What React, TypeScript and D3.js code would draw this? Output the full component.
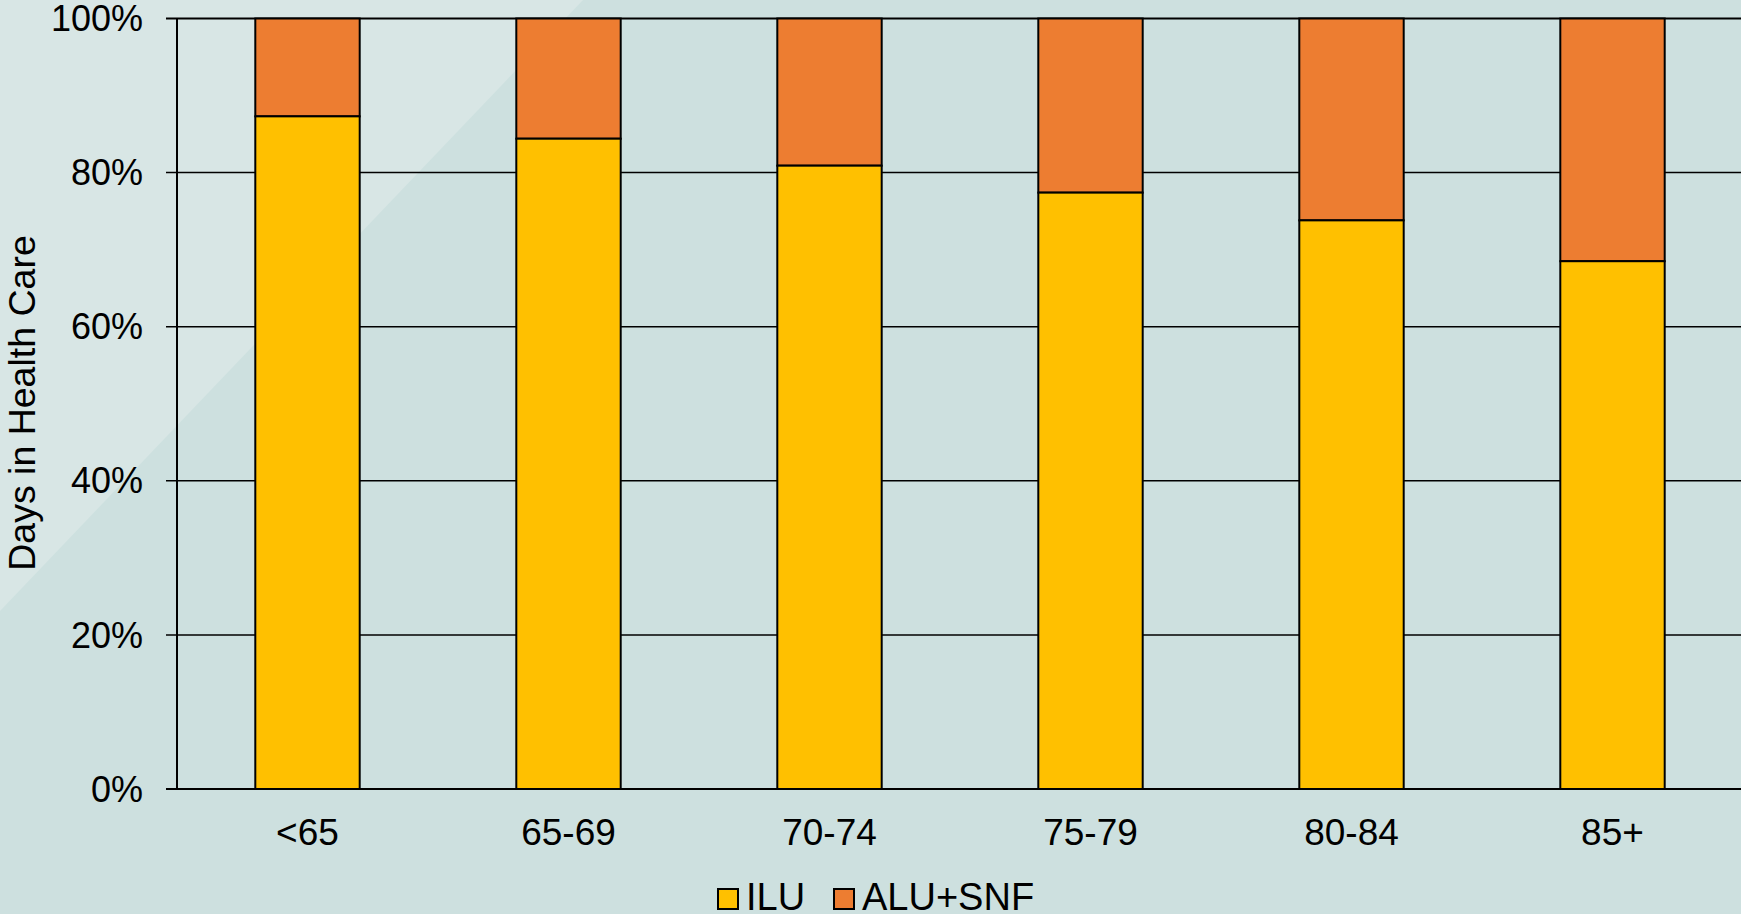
import React from "react";
import * as d3 from "d3";

const categories = ["<65", "65-69", "70-74", "75-79", "80-84", "85+"];
const iluValues = [0.873, 0.844, 0.809, 0.774, 0.738, 0.685];
const yTicks = [0, 0.2, 0.4, 0.6, 0.8, 1.0];
const seriesNames = ["ILU", "ALU+SNF"];
const seriesColors = ["#FFC000", "#ED7D31"];

const W = 1741;
const H = 914;
const FONT = "'Liberation Sans', Arial, sans-serif";

export default function App() {
  const x = d3.scaleBand<string>().domain(categories).range([177, 1743]).paddingInner(0.6).paddingOuter(0.3);
  const y = d3.scaleLinear().domain([0, 1]).range([789, 18.5]);
  const fmt = d3.format(".0%");
  const x0 = 177;
  const x1 = 1745;

  return (
    <svg width={W} height={H} style={{ position: "fixed", left: 0, top: 0, display: "block" }} fontFamily={FONT}>
      <rect x={0} y={0} width={W} height={H} fill="#CDE0DF" />
      <polygon points={`0,0 583,0 0,611`} fill="#D8E6E5" />
      {yTicks.map((t) => (
        <line key={"g" + t} x1={166} x2={x1} y1={y(t)} y2={y(t)} stroke="#000" strokeWidth={t === 1 || t === 0 ? 2 : 1.5} />
      ))}
      <line x1={x0} x2={x0} y1={y(1)} y2={y(0)} stroke="#000" strokeWidth={2} />
      {categories.map((c, i) => {
        const v = iluValues[i];
        const bx = x(c)!;
        const bw = x.bandwidth();
        return (
          <g key={c}>
            <rect x={bx} y={y(1)} width={bw} height={y(v) - y(1)} fill={seriesColors[1]} stroke="#000" strokeWidth={2} />
            <rect x={bx} y={y(v)} width={bw} height={y(0) - y(v)} fill={seriesColors[0]} stroke="#000" strokeWidth={2} />
          </g>
        );
      })}
      {yTicks.map((t) => (
        <text key={"t" + t} x={143} y={y(t)} dy="0.35em" textAnchor="end" fontSize={36} fill="#000">
          {fmt(t)}
        </text>
      ))}
      {categories.map((c) => (
        <text key={"x" + c} x={x(c)! + x.bandwidth() / 2} y={845} textAnchor="middle" fontSize={37} fill="#000">
          {c}
        </text>
      ))}
      <text transform={`translate(35, 403) rotate(-90)`} textAnchor="middle" fontSize={37.5} fill="#000">
        Days in Health Care
      </text>
      <g>
        <rect x={718} y={889} width={20} height={20} fill={seriesColors[0]} stroke="#000" strokeWidth={2} />
        <text x={746} y={910} fontSize={38} fill="#000">{seriesNames[0]}</text>
        <rect x={834} y={889} width={20} height={20} fill={seriesColors[1]} stroke="#000" strokeWidth={2} />
        <text x={862} y={910} fontSize={38} fill="#000">{seriesNames[1]}</text>
      </g>
    </svg>
  );
}
